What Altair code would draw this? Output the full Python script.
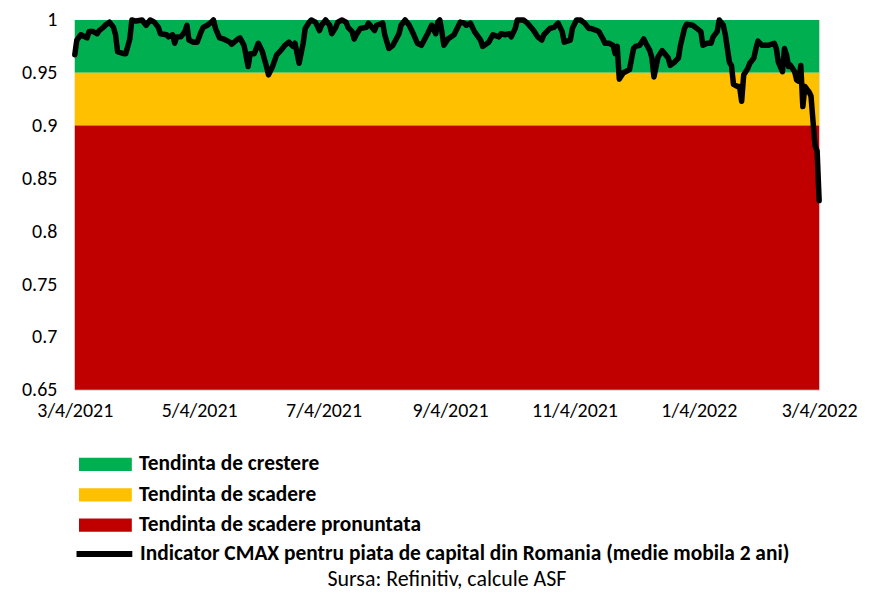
import altair as alt
import pandas as pd

# ---- data ----
start_date = "2021-03-04"
day_offsets = [0, 1, 3, 6, 7, 9, 11, 12, 14, 15, 17, 19, 20, 21, 24, 25, 27, 28, 30, 33,
               35, 37, 39, 41, 42, 45, 46, 48, 49, 50, 52, 54, 55, 56, 58, 60, 62, 63, 65, 67,
               68, 69, 71, 73, 76, 77, 80, 81, 83, 85, 86, 88, 90, 92, 94, 95, 97, 99, 101, 103,
               105, 107, 108, 110, 112, 113, 115, 116, 118, 120, 121, 123, 125, 126, 128, 129, 131, 133, 134, 136,
               137, 138, 140, 143, 144, 147, 148, 151, 152, 154, 156, 159, 160, 162, 164, 166, 168, 170, 173, 175,
               177, 178, 179, 180, 181, 183, 186, 187, 189, 191, 192, 194, 196, 199, 200, 203, 205, 208, 209, 211,
               213, 214, 216, 217, 220, 222, 225, 227, 229, 230, 233, 235, 237, 239, 240, 243, 244, 246, 248, 250,
               252, 253, 256, 257, 259, 260, 262, 264, 265, 266, 267, 269, 270, 272, 274, 275, 277, 279, 280, 282,
               283, 284, 286, 288, 291, 292, 294, 296, 297, 299, 300, 303, 305, 307, 308, 310, 312, 313, 315, 316,
               318, 319, 320, 321, 322, 323, 325, 326, 327, 328, 330, 331, 333, 334, 335, 337, 340, 343, 344, 345,
               347, 348, 349, 350, 351, 353, 354, 355, 356, 357, 358, 360, 361, 362, 363, 364, 365]
cmax_values = [0.967, 0.981, 0.986, 0.983, 0.989, 0.989, 0.987, 0.990, 0.993, 0.995, 0.998, 0.993, 0.986, 0.970, 0.968, 0.968, 0.982, 1.0, 0.999, 1.0,
               0.995, 1.0, 0.998, 0.993, 0.987, 0.986, 0.984, 0.986, 0.978, 0.984, 0.984, 0.989, 0.995, 0.981, 0.979, 0.979, 0.989, 0.993, 0.995, 0.998,
               1.0, 0.992, 0.983, 0.982, 0.979, 0.977, 0.982, 0.983, 0.976, 0.956, 0.968, 0.968, 0.978, 0.970, 0.956, 0.948, 0.956, 0.967, 0.971, 0.976,
               0.979, 0.975, 0.978, 0.959, 0.978, 0.992, 0.998, 1.0, 0.998, 0.990, 0.995, 1.0, 0.995, 0.987, 0.993, 0.998, 1.0, 0.998, 0.993, 0.989,
               0.982, 0.986, 0.992, 0.993, 0.997, 0.990, 0.995, 0.997, 0.986, 0.973, 0.976, 0.987, 0.995, 1.0, 0.995, 0.987, 0.978, 0.976, 0.987, 0.995,
               0.987, 0.998, 1.0, 0.989, 0.976, 0.982, 0.986, 0.990, 0.998, 0.997, 0.995, 0.997, 0.989, 0.981, 0.975, 0.979, 0.986, 0.984, 0.987, 0.986,
               0.987, 0.984, 0.992, 1.0, 1.0, 0.997, 0.990, 0.984, 0.981, 0.986, 0.992, 0.993, 0.997, 0.989, 0.979, 0.981, 0.992, 1.0, 1.0, 0.997,
               0.992, 0.992, 0.990, 0.989, 0.982, 0.978, 0.978, 0.976, 0.968, 0.975, 0.944, 0.950, 0.951, 0.953, 0.973, 0.975, 0.976, 0.982, 0.978, 0.971,
               0.964, 0.946, 0.965, 0.971, 0.964, 0.957, 0.960, 0.964, 0.976, 0.992, 0.996, 0.995, 0.992, 0.989, 0.976, 0.978, 0.978, 0.984, 0.989, 1.0,
               0.995, 0.986, 0.973, 0.960, 0.957, 0.939, 0.937, 0.937, 0.923, 0.948, 0.954, 0.959, 0.964, 0.973, 0.980, 0.976, 0.976, 0.978, 0.973, 0.960,
               0.951, 0.973, 0.967, 0.956, 0.957, 0.951, 0.943, 0.942, 0.957, 0.918, 0.937, 0.932, 0.928, 0.904, 0.881, 0.876, 0.829]

band_names = ["Tendinta de crestere", "Tendinta de scadere", "Tendinta de scadere pronuntata"]
band_low = [0.95, 0.90, 0.65]
band_high = [1.00, 0.95, 0.90]
band_colors = ["#00B050", "#FFC000", "#C00000"]
line_name = "Indicator CMAX pentru piata de capital din Romania (medie mobila 2 ani)"
source_text = "Sursa: Refinitiv, calcule ASF"

x_start = "2021-03-04T00:00:00"
x_end = "2022-03-04T00:00:00"
x_tick_dates = [(2021, 3, 4), (2021, 5, 4), (2021, 7, 4), (2021, 9, 4),
                (2021, 11, 4), (2022, 1, 4), (2022, 3, 4)]
y_ticks = [0.65, 0.7, 0.75, 0.8, 0.85, 0.9, 0.95, 1.0]

FONT = "Carlito, 'Liberation Sans', Arial, sans-serif"

# ---- tables ----
dates = pd.Timestamp(start_date) + pd.to_timedelta(day_offsets, unit="D")
line_df = pd.DataFrame({
    "date": dates.strftime("%Y-%m-%dT%H:%M:%S"),
    "value": cmax_values,
    "series": line_name,
})
band_df = pd.DataFrame({
    "band": band_names,
    "low": band_low,
    "high": band_high,
    "start": x_start,
    "end": x_end,
})

x_scale = alt.Scale(domain=[alt.DateTime(year=2021, month=3, date=4),
                            alt.DateTime(year=2022, month=3, date=4)])
y_scale = alt.Scale(domain=[0.65, 1.0], nice=False, zero=False)

x_axis = alt.Axis(
    values=[alt.DateTime(year=y, month=m, date=d) for (y, m, d) in x_tick_dates],
    labelExpr="timeFormat(datum.value, '%-m/%-d/%Y')",
    title=None, grid=False, ticks=False, tickSize=0,
    domain=True, domainColor="#D9D9D9", domainWidth=1,
    labelFont=FONT, labelFontSize=20, labelColor="#000000", labelPadding=11,
    labelOverlap=False, labelFlush=False,
)
y_axis = alt.Axis(
    values=y_ticks, format=".2~f", title=None, grid=False, ticks=False, tickSize=0,
    domain=False, labelFont=FONT, labelFontSize=20, labelColor="#000000", labelPadding=18,
)

LEG_FONT_SIZE = 21.5

bands = alt.Chart(band_df).mark_rect().encode(
    x=alt.X("start:T", scale=x_scale, axis=x_axis),
    x2="end:T",
    y=alt.Y("low:Q", scale=y_scale, axis=y_axis),
    y2="high:Q",
    fill=alt.Fill(
        "band:N",
        scale=alt.Scale(domain=band_names, range=band_colors),
        sort=band_names,
        legend=alt.Legend(
            orient="none", legendX=0, legendY=435.25, title=None, padding=0,
            symbolType="M-4,-1H4V1H-4Z", symbolSize=175.6, symbolStrokeWidth=0,
            symbolOffset=20, labelOffset=23, rowPadding=7.5,
            labelFont=FONT, labelFontSize=LEG_FONT_SIZE, labelFontWeight="bold",
            labelColor="#000000", labelLimit=1000,
        ),
    ),
)

line = alt.Chart(line_df).mark_line(
    strokeWidth=5.5, strokeJoin="round", strokeCap="round"
).encode(
    x=alt.X("date:T", scale=x_scale, axis=x_axis),
    y=alt.Y("value:Q", scale=y_scale, axis=y_axis),
    stroke=alt.Stroke(
        "series:N",
        scale=alt.Scale(domain=[line_name], range=["#000000"]),
        legend=alt.Legend(
            orient="none", legendX=0, legendY=525.25, title=None, padding=0,
            symbolType="M-4,0H4", symbolSize=196, symbolStrokeWidth=6,
            symbolOffset=19, labelOffset=25,
            labelFont=FONT, labelFontSize=LEG_FONT_SIZE, labelFontWeight="bold",
            labelColor="#000000", labelLimit=1000,
        ),
    ),
)

chart = alt.layer(bands, line).properties(
    width=747,
    height=371,
    padding={"left": 13, "top": 1, "right": 5, "bottom": 0},
    title=alt.TitleParams(
        text=source_text, orient="bottom", anchor="middle", fontSize=22,
        fontWeight="normal", font=FONT, color="#000000", offset=3,
    ),
).configure_view(stroke=None).configure(background="white")

chart.save("out.html", embed_options={"renderer": "svg", "actions": False})
